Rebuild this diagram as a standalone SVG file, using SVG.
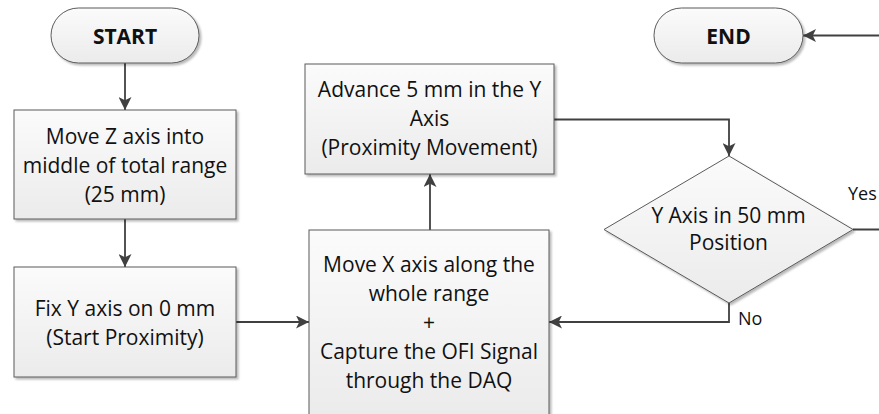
<svg xmlns="http://www.w3.org/2000/svg" width="879" height="414" viewBox="0 0 879 414">
<defs>
<linearGradient id="g" x1="0" y1="0" x2="0" y2="1">
<stop offset="0" stop-color="#fbfbfb"/>
<stop offset="1" stop-color="#ebebeb"/>
</linearGradient>
<filter id="sh" x="-10%" y="-10%" width="125%" height="125%">
<feDropShadow dx="2" dy="2" stdDeviation="1.2" flood-color="#000" flood-opacity="0.28"/>
</filter>
<marker id="ah" markerUnits="userSpaceOnUse" markerWidth="13" markerHeight="13" viewBox="0 0 12 12" refX="12" refY="6" orient="auto">
<path d="M0,0 L12,6 L0,12 L3,6 z" fill="#404040"/>
</marker>
</defs>
<style>
.n{fill:url(#g);stroke:#5a5a5a;stroke-width:1;filter:url(#sh)}
.t{font-family:"Open Sans","Liberation Sans",sans-serif;font-size:21px;fill:#111;text-anchor:middle}
.b{font-weight:bold;font-size:21px}
.l{font-family:"Open Sans","Liberation Sans",sans-serif;font-size:18px;fill:#111}
.c{fill:none;stroke:#404040;stroke-width:1.8;marker-end:url(#ah)}
</style>
<g id="connectors">
<path class="c" d="M125,63 V110"/>
<path class="c" d="M125,219 V267"/>
<path class="c" d="M236,322 H309"/>
<path class="c" d="M430,230 V174"/>
<path class="c" d="M554,119.5 H729 V156"/>
<path class="c" d="M729,303 V322 H549"/>
<path class="c" d="M853,229.5 H885 V35.5 H803"/>
<text class="l" x="848" y="200">Yes</text>
<text class="l" x="738" y="325">No</text>
</g>
<g id="start">
<rect class="n" x="51" y="8" width="148" height="55" rx="27.5" ry="27.5"/>
<text class="t b" x="125" y="44">START</text>
</g>
<g id="end">
<rect class="n" x="654" y="8" width="149" height="55" rx="27.5" ry="27.5"/>
<text class="t b" x="728.5" y="44">END</text>
</g>
<g id="moveZ">
<rect class="n" x="14" y="110" width="222" height="109"/>
<text class="t" x="125" y="143.5">Move Z axis into</text>
<text class="t" x="125" y="172.5">middle of total range</text>
<text class="t" x="125" y="201.5">(25 mm)</text>
</g>
<g id="fixY">
<rect class="n" x="14" y="267" width="222" height="110"/>
<text class="t" x="125" y="315.5">Fix Y axis on 0 mm</text>
<text class="t" x="125" y="344.5">(Start Proximity)</text>
</g>
<g id="moveX">
<rect class="n" x="309" y="230" width="240" height="188"/>
<text class="t" x="429" y="272">Move X axis along the</text>
<text class="t" x="429" y="301">whole range</text>
<text class="t" x="429" y="330">+</text>
<text class="t" x="429" y="359">Capture the OFI Signal</text>
<text class="t" x="429" y="388">through the DAQ</text>
</g>
<g id="advance">
<rect class="n" x="305" y="64" width="249" height="110"/>
<text class="t" x="429.5" y="97">Advance 5 mm in the Y</text>
<text class="t" x="429.5" y="126">Axis</text>
<text class="t" x="429.5" y="155">(Proximity Movement)</text>
</g>
<g id="decision">
<polygon class="n" points="729,156 853,229.5 729,303 604,229.5"/>
<text class="t" x="728.5" y="223">Y Axis in 50 mm</text>
<text class="t" x="728.5" y="250">Position</text>
</g>
</svg>
